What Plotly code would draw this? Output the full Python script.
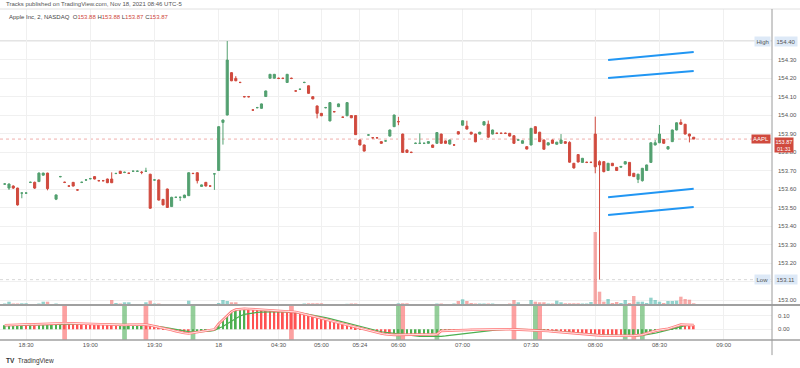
import plotly.graph_objects as go

# ---------------- data ----------------
opens = [153.627,153.605,153.616,153.605,153.578,153.578,153.636,153.636,153.640,153.675,
153.686,None,153.545,153.667,153.636,153.616,153.636,153.595,153.636,153.649,
153.656,153.667,153.645,153.645,153.654,153.654,153.684,153.696,153.690,153.685,
153.696,153.696,153.690,153.696,153.680,153.649,153.649,153.544,153.600,153.505,
153.555,153.555,153.553,153.564,153.684,153.688,153.614,153.636,153.616,153.682,
153.700,153.960,154.000,154.229,154.198,154.176,154.099,154.099,154.027,154.040,
154.036,154.100,154.199,154.199,154.198,154.198,154.176,154.198,154.130,154.139,
154.176,154.158,154.099,154.049,154.009,154.040,153.968,154.018,154.045,153.988,
153.996,153.997,153.997,153.865,153.838,153.892,153.877,153.877,153.856,153.860,
153.886,153.937,153.964,153.897,153.811,153.798,153.847,153.847,153.847,153.847,
153.838,153.847,153.897,153.860,153.843,153.838,153.910,153.945,153.940,153.907,
153.897,153.897,153.946,153.950,153.897,153.901,153.901,153.901,153.901,153.888,
153.865,153.847,153.829,153.838,153.937,153.907,153.865,153.838,153.865,153.842,
153.847,153.856,153.852,153.739,153.786,153.744,153.744,153.744,153.897,153.748,
153.748,153.700,153.739,153.717,153.718,153.735,153.744,153.685,153.652,153.645,
153.700,153.744,153.838,153.850,153.868,153.816,153.856,153.919,153.960,153.950,
153.897,153.880]
highs = [153.632,153.630,153.620,153.607,153.582,153.582,153.640,153.640,153.690,153.688,
153.688,None,153.570,153.671,153.640,153.620,153.638,153.599,153.640,153.653,
153.660,153.670,153.649,153.649,153.656,153.690,153.688,153.698,153.694,153.689,
153.700,153.700,153.697,153.715,153.682,153.653,153.651,153.546,153.602,153.558,
153.559,153.559,153.569,153.690,153.688,153.690,153.624,153.638,153.620,153.686,
153.940,153.975,154.400,154.232,154.210,154.180,154.103,154.103,154.031,154.044,
154.062,154.132,154.222,154.222,154.202,154.202,154.222,154.202,154.134,154.143,
154.180,154.160,154.101,154.051,154.011,154.044,154.069,154.022,154.062,153.992,
154.069,153.999,154.000,153.867,153.840,153.896,153.881,153.881,153.858,153.864,
153.921,154.002,153.990,153.899,153.813,153.802,153.851,153.901,153.851,153.858,
153.840,153.907,153.899,153.862,153.867,153.842,153.912,153.971,153.969,153.909,
153.899,153.909,153.966,153.970,153.921,153.905,153.905,153.905,153.903,153.890,
153.869,153.863,153.831,153.930,153.939,153.909,153.867,153.852,153.867,153.855,
153.897,153.858,153.858,153.741,153.788,153.768,153.748,153.748,153.991,153.755,
153.750,153.741,153.741,153.719,153.723,153.750,153.746,153.687,153.682,153.714,
153.732,153.852,153.865,153.946,153.870,153.831,153.921,153.960,153.977,153.952,
153.899,153.880]
lows = [153.622,153.595,153.600,153.510,153.550,153.574,153.632,153.600,153.638,153.672,
153.593,None,153.540,153.663,153.632,153.612,153.614,153.591,153.632,153.645,
153.652,153.652,153.641,153.641,153.632,153.632,153.680,153.682,153.686,153.681,
153.692,153.692,153.680,153.692,153.494,153.645,153.538,153.512,153.498,153.503,
153.551,153.535,153.551,153.562,153.680,153.630,153.612,153.614,153.612,153.595,
153.698,153.840,153.998,154.183,154.183,154.172,154.095,154.095,154.023,154.036,
154.034,154.098,154.197,154.197,154.194,154.194,154.174,154.194,154.126,154.135,
154.172,154.115,154.085,153.982,153.994,154.036,153.966,154.014,154.043,153.984,
153.994,153.983,153.892,153.836,153.803,153.888,153.873,153.873,153.845,153.856,
153.884,153.935,153.945,153.796,153.796,153.794,153.843,153.843,153.843,153.845,
153.823,153.845,153.845,153.845,153.841,153.834,153.895,153.943,153.922,153.895,
153.853,153.895,153.944,153.878,153.895,153.897,153.897,153.897,153.884,153.845,
153.861,153.845,153.814,153.836,153.899,153.854,153.813,153.836,153.845,153.840,
153.845,153.845,153.742,153.710,153.744,153.742,153.740,153.740,153.685,153.110,
153.690,153.698,153.724,153.698,153.716,153.733,153.670,153.665,153.632,153.640,
153.698,153.742,153.836,153.848,153.845,153.814,153.854,153.917,153.948,153.895,
153.852,153.870]
closes = [153.627,153.627,153.605,153.514,153.578,153.578,153.636,153.605,153.686,153.686,
153.602,None,153.568,153.667,153.636,153.616,153.616,153.595,153.636,153.649,
153.656,153.654,153.645,153.645,153.634,153.634,153.684,153.684,153.690,153.685,
153.696,153.696,153.690,153.696,153.496,153.649,153.540,153.514,153.500,153.555,
153.555,153.555,153.567,153.688,153.684,153.645,153.622,153.616,153.616,153.682,
153.937,153.973,154.297,154.185,154.185,154.176,154.099,154.099,154.027,154.040,
154.060,154.130,154.220,154.220,154.198,154.198,154.220,154.198,154.130,154.139,
154.176,154.117,154.087,154.009,153.996,154.040,154.067,154.018,154.060,153.988,
154.067,153.985,153.894,153.838,153.805,153.892,153.877,153.877,153.847,153.860,
153.919,154.000,153.964,153.798,153.798,153.798,153.847,153.847,153.847,153.856,
153.825,153.905,153.847,153.847,153.865,153.838,153.897,153.969,153.924,153.897,
153.855,153.907,153.964,153.880,153.919,153.901,153.901,153.901,153.886,153.847,
153.865,153.861,153.816,153.928,153.901,153.856,153.815,153.850,153.847,153.853,
153.865,153.847,153.745,153.714,153.746,153.766,153.744,153.744,153.720,153.730,
153.694,153.739,153.726,153.700,153.722,153.748,153.672,153.667,153.680,153.712,
153.730,153.850,153.850,153.897,153.847,153.829,153.919,153.958,153.950,153.897,
153.886,153.870]

volume_k = [1.5,3.3,1.5,1.5,1.7,1.7,1,1,1.5,3.3,
3.3,0,1.5,1,1,1,1,1,1,1,
1,1,1,1,1,5,2,1.5,2.7,2.7,
1,1,1,2.7,4.3,1.5,1.5,1,1,1,
1,1,1,4.3,1,1,1,1,1,1,
2,5,4,2.7,2.7,1,1,1,1,1,
1,1,1,1,1,1,1,1,1,1,
1.5,1.7,1.7,1.7,1.7,1,1,1,1,1,
1.2,1.5,1.5,1,1,1,1,1,1,1,
1,1,1.7,1.7,1.7,1,1,1,1,1,
1,1.5,1.5,1,1,1.5,4,5.7,4,2,
1.5,1.5,1.5,1.5,1.5,1,1,1,1.5,5,
2.7,1,1,5,3.3,2.7,2.7,1.5,1.5,4.3,
2.7,1.7,1.7,1.7,1.7,1.5,1.5,3,73,13.3,
3.3,6,2,3,2,5,2,9,3.3,3.3,
2,7.3,5,3.3,2,4,4,4.3,8.3,6,
5.3,1.7]

osc_fast = [0.030,0.032,0.034,0.035,0.036,0.0355,0.037,0.0365,0.038,0.040,
0.042,0.044,0.045,0.046,
0.045,0.044,0.043,0.042,0.041,0.040,0.039,0.038,0.037,0.036,0.034,0.032,0.030,
0.031,0.032,0.033,0.034,0.035,0.036,
0.034,0.029,0.023,0.016,0.009,0.002,-0.006,-0.014,-0.022,-0.028,-0.031,
-0.026,-0.020,-0.014,-0.009,-0.005,-0.001,
0.040,0.070,0.105,0.130,0.145,0.150,0.151,
0.150,0.148,0.146,0.144,0.142,0.140,0.139,0.138,0.137,0.136,0.134,
0.128,0.120,0.112,0.103,0.094,0.086,0.077,0.068,0.060,0.052,0.044,0.036,0.028,
0.020,0.012,0.004,-0.004,-0.011,-0.018,-0.025,-0.031,-0.037,-0.042,
-0.0415,-0.041,-0.0405,-0.040,-0.0395,-0.039,-0.0385,-0.038,-0.0375,-0.037,-0.0365,
-0.012,-0.010,-0.009,-0.008,-0.007,-0.006,-0.005,-0.004,-0.003,-0.0025,-0.002,-0.0015,-0.001,-0.0005,0.0,0.0005,
0.0,-0.001,-0.002,-0.003,-0.004,-0.005,-0.006,-0.007,-0.010,-0.013,-0.016,-0.019,-0.022,-0.025,-0.028,-0.031,-0.034,-0.037,-0.040,-0.042,-0.044,-0.045,-0.046,-0.047,-0.048,-0.049,-0.050,
-0.049,-0.048,-0.047,-0.045,-0.040,-0.030,-0.020,-0.012,-0.006,-0.002,0.004,0.014,0.026,0.034,
0.033,0.032,0.031]
osc_slow = [0.026,0.027,0.028,0.029,0.030,0.031,0.032,0.033,0.034,0.035,0.036,0.037,0.038,0.039,
0.040,0.040,0.040,0.040,0.040,0.039,0.039,0.038,0.038,0.037,0.036,0.035,0.034,
0.034,0.034,0.034,0.034,0.034,0.034,
0.033,0.030,0.026,0.021,0.016,0.010,0.004,-0.002,-0.008,-0.013,-0.017,
-0.019,-0.019,-0.018,-0.016,-0.013,-0.009,
0.008,0.020,0.040,0.060,0.080,0.098,0.110,
0.116,0.120,0.124,0.127,0.129,0.130,0.130,0.130,0.129,0.128,0.126,
0.123,0.120,0.116,0.111,0.106,0.100,0.093,0.086,0.079,0.071,0.063,0.055,0.047,
0.038,0.029,0.020,0.011,0.003,-0.005,-0.012,-0.018,-0.023,-0.027,
-0.030,-0.034,-0.038,-0.042,-0.046,-0.050,-0.052,-0.053,-0.054,-0.054,-0.054,
-0.052,-0.049,-0.045,-0.041,-0.037,-0.033,-0.029,-0.025,-0.021,-0.017,-0.013,-0.010,-0.007,-0.004,-0.002,0.0,
0.001,0.001,0.0,0.0,-0.001,-0.002,-0.003,-0.004,-0.006,-0.008,-0.010,-0.013,-0.016,-0.019,-0.022,-0.025,-0.028,-0.031,-0.034,-0.036,-0.038,-0.040,-0.042,-0.043,-0.044,-0.045,-0.046,
-0.050,-0.050,-0.049,-0.048,-0.046,-0.042,-0.036,-0.029,-0.021,-0.013,-0.005,0.005,0.015,0.023,
0.027,0.029,0.030]

signal_red_bars = [14, 33, 67, 93, 119, 125, 147]
signal_green_bars = [28, 44, 92, 101, 124, 145, 149]

tick_bars = [5, 20, 35, 50, 64, 74, 83, 92, 107, 123, 138, 153, 168]
tick_text = ["18:30", "19:00", "19:30", "18", "04:30", "05:00", "05:24", "06:00",
             "07:00", "07:30", "08:00", "08:30", "09:00"]

# drawn trend lines (bar index, price)
trend_x = [141, 161]
trend_upper1 = [154.297, 154.340]
trend_upper2 = [154.200, 154.238]
trend_lower1 = [153.555, 153.602]
trend_lower2 = [153.459, 153.503]

price_ticks = [153.0 + 0.1 * k for k in range(15)]
osc_ticks = [0.0, 0.10]

# ---------------- styling ----------------
UP = "#53a070"
DN = "#d04a3e"
VOL_UP = "rgba(38,166,154,0.5)"
VOL_DN = "rgba(239,83,80,0.5)"
GRID = "#f0f0f0"
FONT = "Liberation Sans"
TXT = "#4a4a4a"

n = len(closes)
idx = list(range(n))

X_RANGE = [-1.1, 179.3]
X_DOM = [0, 0.965]
MAIN_DOM = [0.1712, 0.9755]
OSC_DOM = [0.0761, 0.1712]
P_RANGE = [152.973, 154.573]
O_RANGE = [-0.079, 0.179]

valid_h = [h for h in highs if h is not None]
valid_l = [l for l in lows if l is not None]
hi = max(valid_h)
lo = min(valid_l)
last = closes[-1]

fig = go.Figure()

# volume (overlay on main pane)
vcol = []
for o, c in zip(opens, closes):
    if o is None:
        vcol.append(VOL_UP)
    else:
        vcol.append(VOL_UP if c >= o else VOL_DN)
fig.add_trace(go.Bar(x=idx, y=volume_k, marker=dict(color=vcol, line=dict(width=0)),
                     width=0.8, xaxis="x", yaxis="y3", hoverinfo="skip", showlegend=False))

# candles
fig.add_trace(go.Candlestick(
    x=idx, open=opens, high=highs, low=lows, close=closes,
    increasing=dict(line=dict(color=UP, width=1), fillcolor=UP),
    decreasing=dict(line=dict(color=DN, width=1), fillcolor=DN),
    whiskerwidth=0, xaxis="x", yaxis="y", showlegend=False, hoverinfo="skip"))

# trend lines
for ys in (trend_upper1, trend_upper2, trend_lower1, trend_lower2):
    fig.add_trace(go.Scatter(x=trend_x, y=ys, mode="lines",
                             line=dict(color="#2196f3", width=2),
                             xaxis="x", yaxis="y", showlegend=False, hoverinfo="skip"))

# oscillator pane: highlight columns
span = O_RANGE[1] - O_RANGE[0]
fig.add_trace(go.Bar(x=signal_red_bars, y=[span] * len(signal_red_bars), base=O_RANGE[0],
                     width=1.1, marker=dict(color="rgba(250,110,110,0.65)", line=dict(width=0)),
                     xaxis="x2", yaxis="y2", showlegend=False, hoverinfo="skip"))
fig.add_trace(go.Bar(x=signal_green_bars, y=[span] * len(signal_green_bars), base=O_RANGE[0],
                     width=1.1, marker=dict(color="rgba(90,180,100,0.65)", line=dict(width=0)),
                     xaxis="x2", yaxis="y2", showlegend=False, hoverinfo="skip"))

# hatches
hcol = []
for i in range(n):
    if i == 0 or osc_fast[i] >= osc_fast[i - 1]:
        hcol.append("#4caf50")
    else:
        hcol.append("#ff5252")
fig.add_trace(go.Bar(x=idx, y=osc_fast, width=0.42, marker=dict(color=hcol, line=dict(width=0)),
                     xaxis="x2", yaxis="y2", showlegend=False, hoverinfo="skip"))
fig.add_trace(go.Scatter(x=idx, y=osc_slow, mode="lines", line=dict(color="#4caf50", width=1.2),
                         xaxis="x2", yaxis="y2", showlegend=False, hoverinfo="skip"))
fig.add_trace(go.Scatter(x=idx, y=osc_fast, mode="lines", line=dict(color="#ff7b7b", width=2.6),
                         xaxis="x2", yaxis="y2", showlegend=False, hoverinfo="skip"))
fig.add_trace(go.Scatter(x=idx, y=osc_fast, mode="lines", line=dict(color="white", width=0.8),
                         xaxis="x2", yaxis="y2", showlegend=False, hoverinfo="skip"))

shapes = [
    dict(type="line", xref="x", yref="y", x0=X_RANGE[0], x1=X_RANGE[1], y0=hi, y1=hi,
         line=dict(color="#c8c8c8", width=1), layer="below"),
    dict(type="line", xref="x", yref="y", x0=X_RANGE[0], x1=X_RANGE[1], y0=lo, y1=lo,
         line=dict(color="#d8d8d8", width=1, dash="dot"), layer="below"),
    dict(type="line", xref="x", yref="y", x0=X_RANGE[0], x1=X_RANGE[1], y0=last, y1=last,
         line=dict(color="rgba(220,80,70,0.45)", width=1, dash="dot"), layer="below"),
    # frame lines
    dict(type="line", xref="paper", yref="paper", x0=0, x1=1, y0=MAIN_DOM[1], y1=MAIN_DOM[1],
         line=dict(color="#e0e0e0", width=1)),
    dict(type="line", xref="paper", yref="paper", x0=0, x1=1, y0=MAIN_DOM[0], y1=MAIN_DOM[0],
         line=dict(color="#a0a0a0", width=2)),
    dict(type="line", xref="paper", yref="paper", x0=0, x1=1, y0=OSC_DOM[0], y1=OSC_DOM[0],
         line=dict(color="#a0a0a0", width=1.5)),
    dict(type="line", xref="paper", yref="paper", x0=X_DOM[1], x1=X_DOM[1], y0=0.035, y1=MAIN_DOM[1],
         line=dict(color="#9a9a9a", width=1)),
]

# tick labels hidden where the reference covers them with the Low label
price_text = []
for v in price_ticks:
    if abs(v - lo) < 0.05:
        price_text.append("")
    else:
        price_text.append("%.2f" % v)

LBL_BG = "#dde9f7"
annotations = [
    dict(text="Tracks published on TradingView.com, Nov 18, 2021 08:46 UTC-5",
         x=4 / 800, y=1 - 4 / 368, xref="paper", yref="paper", xanchor="left", yanchor="middle",
         showarrow=False, font=dict(family=FONT, size=6, color="#555")),
    dict(text=("Apple Inc, 2, NASDAQ  O<span style='color:%s'>%.2f</span> H<span style='color:%s'>%.2f</span> "
               "L<span style='color:%s'>%.2f</span> C<span style='color:%s'>%.2f</span>")
         % (DN, opens[-1], DN, highs[-1], DN, lows[-1], DN, closes[-1]),
         x=7 / 800, y=1 - 17 / 368, xref="paper", yref="paper", xanchor="left", yanchor="middle",
         showarrow=False, font=dict(family=FONT, size=6, color="#444")),
    dict(text="<b>TV</b>  TradingView", x=4 / 800, y=1 - 361 / 368, xref="paper", yref="paper",
         xanchor="left", yanchor="middle", showarrow=False, font=dict(family=FONT, size=6.5, color="#333")),
    dict(text="High", x=X_DOM[1] - 0.001, y=hi, xref="paper", yref="y", xanchor="right", yanchor="middle",
         showarrow=False, bgcolor=LBL_BG, borderpad=1.5, font=dict(family=FONT, size=6, color="#555")),
    dict(text="%.2f" % hi, x=X_DOM[1] + 0.002, y=hi, xref="paper", yref="y", xanchor="left", yanchor="middle",
         showarrow=False, bgcolor=LBL_BG, borderpad=1.5, font=dict(family=FONT, size=6, color="#555")),
    dict(text="Low", x=X_DOM[1] - 0.001, y=lo, xref="paper", yref="y", xanchor="right", yanchor="middle",
         showarrow=False, bgcolor=LBL_BG, borderpad=1.5, font=dict(family=FONT, size=6, color="#555")),
    dict(text="%.2f" % lo, x=X_DOM[1] + 0.002, y=lo, xref="paper", yref="y", xanchor="left", yanchor="middle",
         showarrow=False, bgcolor=LBL_BG, borderpad=1.5, font=dict(family=FONT, size=6, color="#555")),
    dict(text="AAPL", x=X_DOM[1] - 0.001, y=last, xref="paper", yref="y", xanchor="right", yanchor="middle",
         showarrow=False, bgcolor=DN, borderpad=1, font=dict(family=FONT, size=6, color="white")),
    dict(text="%.2f<br>01:31" % last, x=X_DOM[1] + 0.002, y=last + 0.010, xref="paper", yref="y",
         xanchor="left", yanchor="top", showarrow=False, bgcolor=DN, borderpad=0.5,
         font=dict(family=FONT, size=5.5, color="white")),
]

fig.update_layout(
    width=800, height=368, margin=dict(l=0, r=0, t=0, b=0),
    paper_bgcolor="white", plot_bgcolor="white",
    barmode="overlay", showlegend=False, font=dict(family=FONT, size=6, color=TXT),
    xaxis=dict(domain=X_DOM, range=X_RANGE, anchor="y", tickvals=tick_bars, showticklabels=False,
               showgrid=True, gridcolor=GRID, zeroline=False, rangeslider=dict(visible=False),
               fixedrange=True, ticks=""),
    yaxis=dict(domain=MAIN_DOM, range=P_RANGE, side="right", anchor="x", tickvals=price_ticks,
               ticktext=price_text, showgrid=True, gridcolor=GRID,
               zeroline=False, ticks="", tickfont=dict(size=6, color="#555"), ticklabelstandoff=5),
    yaxis3=dict(domain=MAIN_DOM, range=[0, 296], overlaying="y", anchor="x", visible=False),
    xaxis2=dict(domain=X_DOM, range=X_RANGE, anchor="y2", matches="x", tickvals=tick_bars,
                ticktext=tick_text, showgrid=True, gridcolor=GRID, zeroline=False, ticks="",
                tickfont=dict(size=6, color="#555"), rangeslider=dict(visible=False)),
    yaxis2=dict(domain=OSC_DOM, range=O_RANGE, side="right", anchor="x2", tickvals=osc_ticks,
                ticktext=["%.2f" % v for v in osc_ticks], showgrid=True, gridcolor=GRID,
                zeroline=False, ticks="", tickfont=dict(size=6, color="#555"), ticklabelstandoff=5),
    shapes=shapes, annotations=annotations,
)

fig.write_html("out.html")
